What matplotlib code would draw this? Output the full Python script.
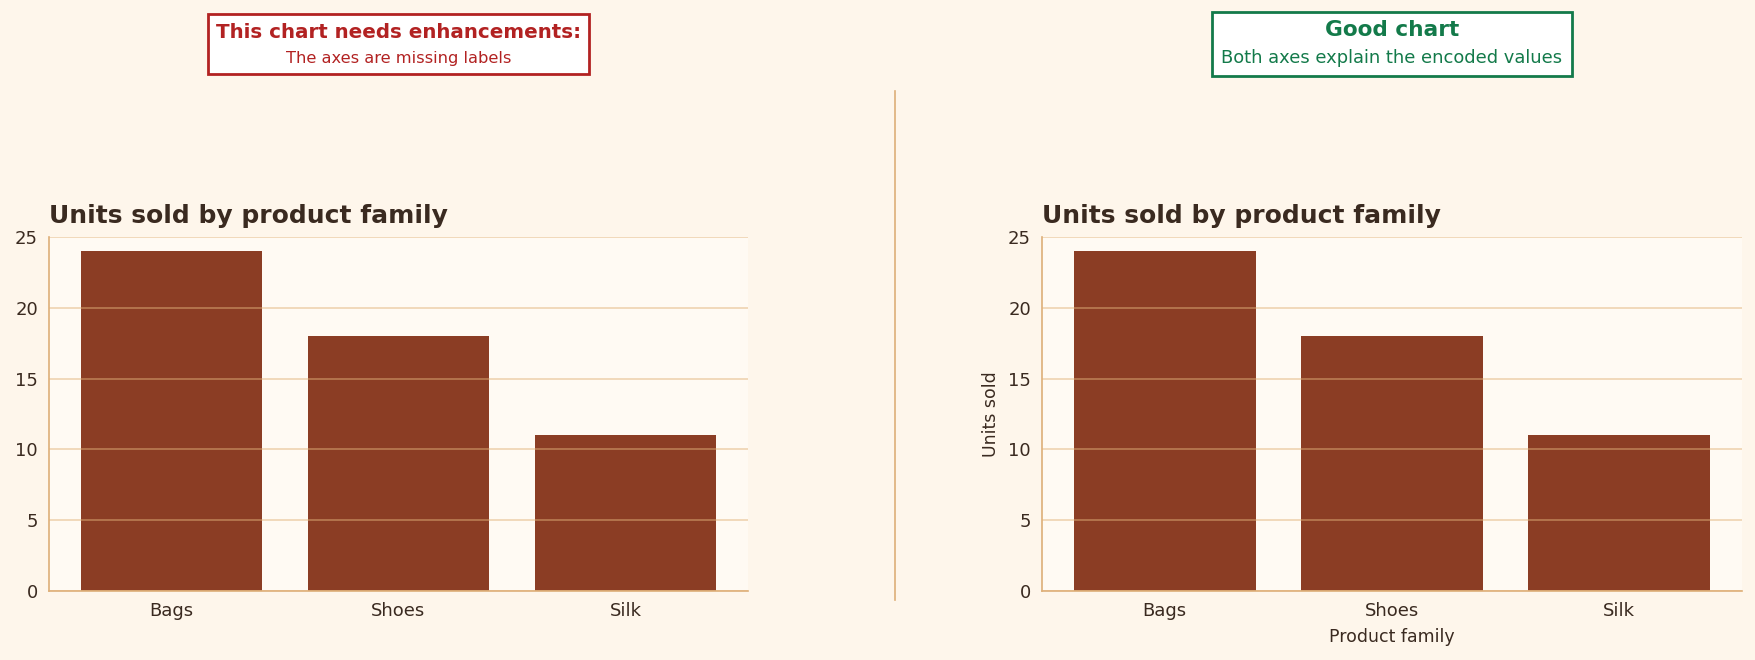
import matplotlib
matplotlib.use("Agg")
import matplotlib.pyplot as plt
from matplotlib.patches import Rectangle
from matplotlib.lines import Line2D

plt.rcParams["font.family"] = ["DejaVu Sans"]

categories = ["Bags", "Shoes", "Silk"]
units = [24, 18, 11]
yticks = [0, 5, 10, 15, 20, 25]

bg = "#FEF6EB"
ax_bg = "#FFFAF3"
bar_col = "#8B3D24"
txt = "#3A2A20"
spine_col = "#DDAF78"
red = "#B22222"
green = "#137A4A"

W, H = 1755, 660
fig = plt.figure(figsize=(W / 100, H / 100), dpi=100, facecolor=bg)


def px_axes(x0, y0, x1, y1):
    return fig.add_axes([x0 / W, 1 - y1 / H, (x1 - x0) / W, (y1 - y0) / H])


def draw_panel(ax, labels):
    ax.set_facecolor(ax_bg)
    ax.bar(categories, units, width=0.8, color=bar_col, zorder=1)
    ax.set_ylim(0, 25)
    ax.set_yticks(yticks)
    ax.grid(axis="y", color="#E2B27A", alpha=0.55, lw=1.2, zorder=2)
    ax.set_axisbelow(False)
    for s in ["top", "right"]:
        ax.spines[s].set_visible(False)
    for s in ["left", "bottom"]:
        ax.spines[s].set_color(spine_col)
        ax.spines[s].set_linewidth(1.2)
    ax.tick_params(length=0, labelsize=13, colors=txt, pad=8)
    ax.set_title("Units sold by product family", loc="left", fontsize=18,
                 fontweight="bold", color=txt, pad=10)
    if labels:
        ax.set_ylabel("Units sold", fontsize=12.5, color=txt, labelpad=6)
        ax.set_xlabel("Product family", fontsize=12.5, color=txt, labelpad=6)


ax1 = px_axes(49, 237, 748, 591)
draw_panel(ax1, False)
ax2 = px_axes(1042, 237, 1742, 591)
draw_panel(ax2, True)

# divider
fig.add_artist(Line2D([895 / W, 895 / W], [1 - 600 / H, 1 - 91 / H],
                      transform=fig.transFigure, color=spine_col, lw=1.2))


def note_box(x0, y0, x1, y1, col, head, sub, head_size, sub_size, sub_dy):
    fig.add_artist(Rectangle((x0 / W, 1 - y1 / H), (x1 - x0) / W, (y1 - y0) / H,
                             transform=fig.transFigure, facecolor="white",
                             edgecolor=col, lw=2))
    cx = (x0 + x1) / 2 / W
    fig.text(cx, 1 - (y0 + 18) / H, head, ha="center", va="center",
             fontsize=head_size, fontweight="bold", color=col)
    fig.text(cx, 1 - (y0 + sub_dy) / H, sub, ha="center", va="center",
             fontsize=sub_size, color=col)


note_box(208, 14, 589, 74, red, "This chart needs enhancements:",
         "The axes are missing labels", 14.3, 11.7, 44)
note_box(1212, 12, 1572, 76, green, "Good chart",
         "Both axes explain the encoded values", 15.6, 12.9, 46)

fig.savefig("out.png", dpi=100, facecolor=bg)
